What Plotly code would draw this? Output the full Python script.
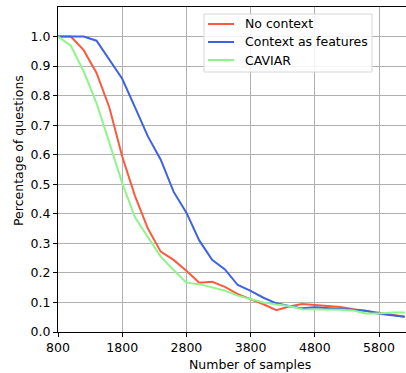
import plotly.graph_objects as go

samples = [800, 1000, 1200, 1400, 1600, 1800, 2000, 2200, 2400, 2600, 2800, 3000,
           3200, 3400, 3600, 3800, 4000, 4200, 4400, 4600, 4800, 5000, 5200, 5400,
           5600, 5800, 6000, 6200]
no_context = [1.0, 1.0, 0.954, 0.877, 0.76, 0.594, 0.46, 0.35, 0.272, 0.244, 0.207, 0.167,
              0.17, 0.153, 0.128, 0.111, 0.094, 0.074, 0.086, 0.095, 0.092, 0.09, 0.085, 0.077,
              0.072, 0.065, 0.058, 0.052]
context_features = [1.0, 1.0, 1.0, 0.986, 0.92, 0.857, 0.76, 0.662, 0.583, 0.475, 0.404, 0.31,
                    0.244, 0.212, 0.159, 0.139, 0.116, 0.097, 0.088, 0.08, 0.084, 0.082, 0.078, 0.075,
                    0.072, 0.062, 0.056, 0.052]
caviar = [1.0, 0.969, 0.882, 0.775, 0.64, 0.504, 0.387, 0.32, 0.255, 0.21, 0.167, 0.162,
          0.152, 0.14, 0.123, 0.111, 0.1, 0.093, 0.088, 0.077, 0.077, 0.076, 0.075, 0.073,
          0.063, 0.063, 0.066, 0.066]

series_names = ["No context", "Context as features", "CAVIAR"]
series_colors = ["#fc5a3f", "#3e63e0", "#8ef58a"]
x_ticks = [800, 1800, 2800, 3800, 4800, 5800]
y_ticks = [0.0, 0.1, 0.2, 0.3, 0.4, 0.5, 0.6, 0.7, 0.8, 0.9, 1.0]
x_title = "Number of samples"
y_title = "Percentage of questions"

W, H = 406, 373
ML, MR, MT, MB = 58, 0, 7, 41
PW, PH = W - ML - MR, H - MT - MB

def px(xp):
    return (xp - ML) / PW

def py(yp):
    return (H - MB - yp) / PH

fig = go.Figure()
for name, vals, color in zip(series_names, [no_context, context_features, caviar], series_colors):
    fig.add_trace(go.Scatter(x=samples, y=vals, mode="lines", name=name,
                             line=dict(color=color, width=2), showlegend=False))

font = "DejaVu Sans, sans-serif"
fsize = 12.5

# manual legend (box, line samples, labels)
shapes = [dict(type="rect", xref="paper", yref="paper",
               x0=px(204), x1=px(372), y0=py(72), y1=py(14),
               line=dict(color="#d6d6d6", width=1), fillcolor="rgba(255,255,255,0.85)",
               layer="above")]
annotations = []
for i, (name, color) in enumerate(zip(series_names, series_colors)):
    yy = py(24 + 18 * i)
    shapes.append(dict(type="line", xref="paper", yref="paper",
                       x0=px(208), x1=px(234), y0=yy, y1=yy,
                       line=dict(color=color, width=2), layer="above"))
    annotations.append(dict(xref="paper", yref="paper", x=px(243), y=yy,
                            xanchor="left", yanchor="middle", text=name, showarrow=False,
                            font=dict(size=fsize, family=font, color="black")))

# axis titles positioned as in the reference
annotations.append(dict(xref="paper", yref="paper", x=px(250), y=py(364),
                        xanchor="center", yanchor="middle", text=x_title, showarrow=False,
                        font=dict(size=fsize, family=font, color="black")))
annotations.append(dict(xref="paper", yref="paper", x=px(18), y=py(151),
                        xanchor="center", yanchor="middle", text=y_title, showarrow=False,
                        textangle=-90, font=dict(size=fsize, family=font, color="black")))

fig.update_layout(
    width=W, height=H,
    margin=dict(l=ML, r=MR, t=MT, b=MB),
    paper_bgcolor="white", plot_bgcolor="white",
    font=dict(family=font, size=fsize, color="black"),
    showlegend=False,
    shapes=shapes, annotations=annotations,
)
fig.update_xaxes(range=[800, 6220], tickvals=x_ticks, ticktext=[str(v) for v in x_ticks],
                 showgrid=True, gridcolor="#b0b0b0", gridwidth=1,
                 showline=True, linecolor="black", linewidth=1.2, mirror=True,
                 ticks="outside", ticklen=4, tickcolor="black",
                 tickfont=dict(size=fsize), zeroline=False)
fig.update_yaxes(range=[0, 1.1], tickvals=y_ticks, ticktext=[f"{v:.1f}" for v in y_ticks],
                 showgrid=True, gridcolor="#b0b0b0", gridwidth=1,
                 showline=True, linecolor="black", linewidth=1.2,
                 ticks="outside", ticklen=4, tickcolor="black",
                 tickfont=dict(size=fsize), zeroline=False)

fig.write_html("out.html")
